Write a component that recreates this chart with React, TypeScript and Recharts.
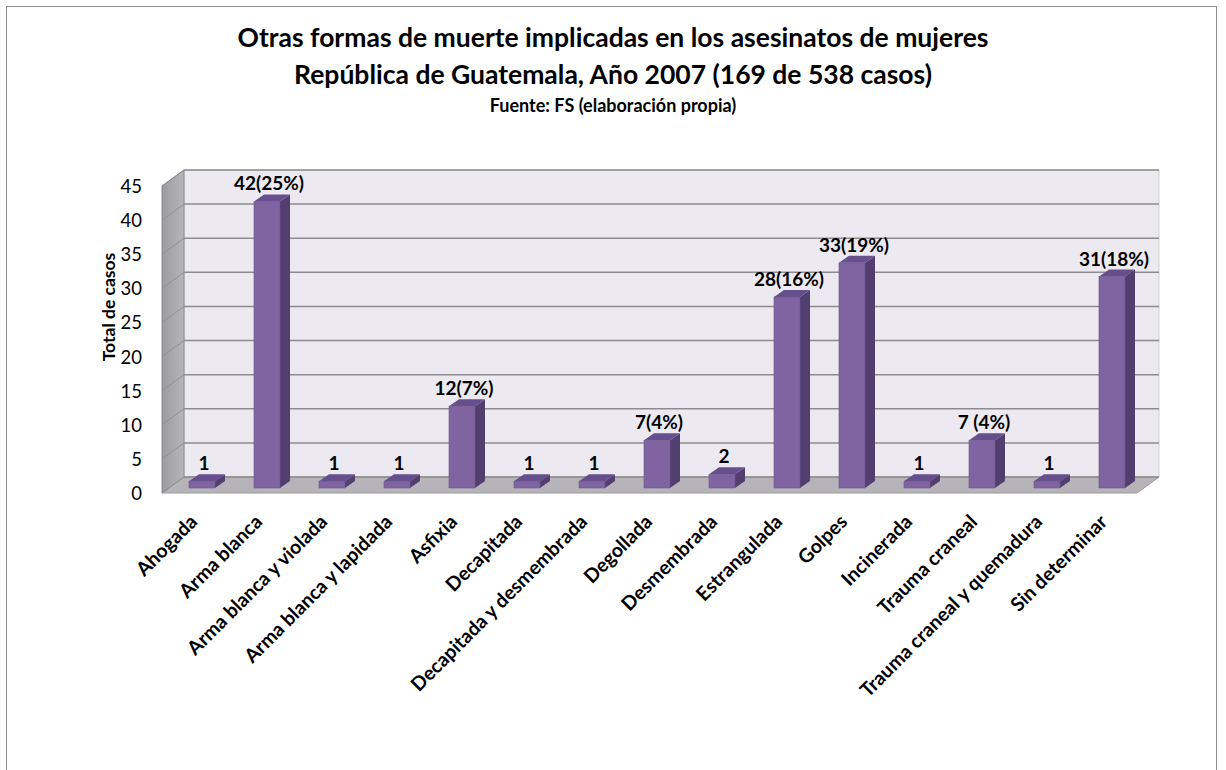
import React from 'react';
import { BarChart, Bar, XAxis, YAxis, ReferenceArea, LabelList } from 'recharts';

const categories = [
  'Ahogada',
  'Arma blanca',
  'Arma blanca y violada',
  'Arma blanca y lapidada',
  'Asfixia',
  'Decapitada',
  'Decapitada y desmembrada',
  'Degollada',
  'Desmembrada',
  'Estrangulada',
  'Golpes',
  'Incinerada',
  'Trauma craneal',
  'Trauma craneal y quemadura',
  'Sin determinar',
];
const values = [1, 42, 1, 1, 12, 1, 1, 7, 2, 28, 33, 1, 7, 1, 31];
const valueLabels = ['1', '42(25%)', '1', '1', '12(7%)', '1', '1', '7(4%)', '2', '28(16%)', '33(19%)', '1', '7 (4%)', '1', '31(18%)'];
const yTicks = [0, 5, 10, 15, 20, 25, 30, 35, 40, 45];

const titleLines = [
  'Otras formas de muerte implicadas en los asesinatos de mujeres',
  'República de Guatemala, Año 2007 (169 de 538 casos)',
];
const subtitle = 'Fuente: FS (elaboración propia)';
const yAxisTitle = 'Total de casos';

const data = categories.map((name, i) => ({ name, value: values[i], label: valueLabels[i] }));

const FONT = "Lato, 'Open Sans', 'DejaVu Sans', sans-serif";
const WALL_DX = 22;
const WALL_DY = -16;
const BAR_DX = 7;
const BAR_DY = -5;
const BAR_DEPTH_X = 10;
const BAR_DEPTH_Y = -7;

const Walls = (props: any) => {
  const { x, y, width, height } = props;
  const b = y + height;
  return (
    <g>
      <defs>
        <linearGradient id="sideWall" x1="0" y1="0" x2="1" y2="0">
          <stop offset="0" stopColor="#9c9c9e" />
          <stop offset="1" stopColor="#b6b6b8" />
        </linearGradient>
      </defs>
      <rect x={x + WALL_DX} y={y + WALL_DY} width={width} height={height} fill="#eceaf0" stroke="#cfcfcf" strokeWidth={1} />
      <polygon
        points={`${x},${y} ${x + WALL_DX},${y + WALL_DY} ${x + WALL_DX},${b + WALL_DY} ${x},${b}`}
        fill="url(#sideWall)"
        stroke="#8a8a8a"
        strokeWidth={1}
      />
      <polygon
        points={`${x},${b} ${x + WALL_DX},${b + WALL_DY} ${x + width + WALL_DX},${b + WALL_DY} ${x + width},${b}`}
        fill="#b6b4b9"
        stroke="#9a9a9a"
        strokeWidth={1}
      />
    </g>
  );
};

const GridLine3D = (props: any) => {
  const { x, y, width } = props;
  if (x == null || y == null) return null;
  return (
    <g>
      <line x1={x} y1={y} x2={x + WALL_DX} y2={y + WALL_DY} stroke="#8f8f91" strokeWidth={1} />
      <line x1={x + WALL_DX} y1={y + WALL_DY} x2={x + width + WALL_DX} y2={y + WALL_DY} stroke="#8c8c8e" strokeWidth={1.5} />
    </g>
  );
};

const Bar3D = (props: any) => {
  const { x, y, width, height } = props;
  if (x == null || y == null) return null;
  const fx = x + BAR_DX;
  const fy = y + BAR_DY;
  const fb = y + height + BAR_DY;
  const dx = BAR_DEPTH_X;
  const dy = BAR_DEPTH_Y;
  return (
    <g>
      <polygon
        points={`${fx + width},${fy} ${fx + width + dx},${fy + dy} ${fx + width + dx},${fb + dy} ${fx + width},${fb}`}
        fill="#523f6f"
      />
      <polygon
        points={`${fx},${fy} ${fx + dx},${fy + dy} ${fx + width + dx},${fy + dy} ${fx + width},${fy}`}
        fill="#664f8c"
      />
      <rect x={fx} y={fy} width={width} height={fb - fy} fill="#8064a2" stroke="#6c558c" strokeWidth={0.6} />
    </g>
  );
};

const ValueLabel = (props: any) => {
  const { x, y, width, value } = props;
  return (
    <text
      x={x + BAR_DX + width / 2 + 2}
      y={y + BAR_DY + BAR_DEPTH_Y - 4}
      textAnchor="middle"
      fontFamily={FONT}
      fontWeight={700}
      fontSize={19}
      fill="#000"
    >
      {value}
    </text>
  );
};

const XTick = (props: any) => {
  const { x, y, payload } = props;
  const px = x + 4;
  const py = y + 22;
  return (
    <text
      x={px}
      y={py}
      textAnchor="end"
      transform={`rotate(-45 ${px} ${py})`}
      fontFamily={FONT}
      fontWeight={700}
      fontSize={19.5}
      fill="#000"
    >
      {payload.value}
    </text>
  );
};

const YTick = (props: any) => {
  const { x, y, payload } = props;
  return (
    <text x={x - 12} y={y + 7} textAnchor="end" fontFamily={FONT} fontSize={18.5} fill="#000">
      {payload.value}
    </text>
  );
};

const YLabel = () => {
  const cx = 108;
  const cy = 307;
  return (
    <text
      x={cx}
      y={cy}
      textAnchor="middle"
      dominantBaseline="central"
      transform={`rotate(-90 ${cx} ${cy})`}
      fontFamily={FONT}
      fontWeight={700}
      fontSize={17.5}
      fill="#000"
    >
      {yAxisTitle}
    </text>
  );
};

export default function App() {
  return (
    <div style={{ position: 'absolute', left: 0, top: 0, width: 1226, height: 770, background: '#fff', overflow: 'hidden' }}>
      <div
        style={{
          position: 'absolute',
          left: 6,
          top: 6,
          width: 1211,
          height: 800,
          border: '1.5px solid #8c8c8c',
          boxSizing: 'border-box',
        }}
      />
      <svg width={1226} height={130} style={{ position: 'absolute', left: 0, top: 0 }}>
        <text x={613} y={47} textAnchor="middle" fontFamily={FONT} fontWeight={700} fontSize={26.5} fill="#000">
          {titleLines[0]}
        </text>
        <text x={613} y={84} textAnchor="middle" fontFamily={FONT} fontWeight={700} fontSize={26.5} fill="#000">
          {titleLines[1]}
        </text>
        <text x={613} y={112} textAnchor="middle" fontFamily={FONT} fontWeight={700} fontSize={18} fill="#000">
          {subtitle}
        </text>
      </svg>
      <div style={{ position: 'absolute', left: 0, top: 0 }}>
        <BarChart
          width={1226}
          height={770}
          data={data}
          margin={{ top: 186, right: 89, bottom: 77, left: 82 }}
          barCategoryGap={0}
        >
          <ReferenceArea y1={0} y2={45} shape={<Walls />} ifOverflow="visible" />
          {yTicks.map((t) => (
            <ReferenceArea key={`g${t}`} y1={t} y2={t} shape={<GridLine3D />} ifOverflow="visible" />
          ))}
          <XAxis
            dataKey="name"
            interval={0}
            height={200}
            axisLine={false}
            tickLine={false}
            tick={<XTick />}
          />
          <YAxis
            type="number"
            domain={[0, 45]}
            ticks={yTicks}
            width={80}
            axisLine={false}
            tickLine={false}
            tick={<YTick />}
            label={<YLabel />}
          />
          <Bar dataKey="value" barSize={26} shape={<Bar3D />} isAnimationActive={false}>
            <LabelList dataKey="label" content={<ValueLabel />} />
          </Bar>
        </BarChart>
      </div>
    </div>
  );
}
